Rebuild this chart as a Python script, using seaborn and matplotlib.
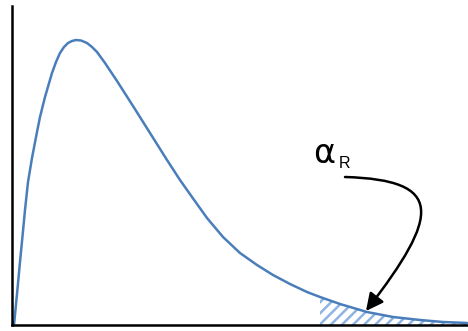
import matplotlib
matplotlib.use("Agg")
import pandas as pd
import matplotlib.pyplot as plt
import seaborn as sns
from matplotlib.path import Path
from matplotlib.patches import FancyArrowPatch

# ── Curve (arbitrary units, no ticks on the chart) ────────────────────────────
x_vals = [2, 5, 8, 11, 13, 16, 20, 25, 28, 33, 40, 44, 48, 52, 56, 60,
          64, 69, 75, 80, 85, 93, 105, 121, 138, 155, 168, 180, 195, 211,
          228, 245, 261, 278, 295, 308, 328, 355, 381, 408, 431, 455]
y_vals = [0, 31, 63, 94, 115, 143, 167, 193, 208, 228, 252, 263, 272, 278,
          282, 284, 285, 284.5, 282, 278, 273, 262, 244, 219, 192, 165, 145,
          128, 107, 88, 72, 60, 50, 41, 33, 28, 21, 13, 8, 5, 3, 2]

TAIL_START = 308          # right-tail region begins here
LABEL      = "α"
SUBSCRIPT  = "R"

CURVE_COLOR = "#4A7EBB"
HATCH_COLOR = "#8FB4E3"

df = pd.DataFrame({"x": x_vals, "y": y_vals})
tail = df[df["x"] >= TAIL_START]

sns.set_style("white")
plt.rcParams["font.family"] = ["Liberation Sans", "DejaVu Sans"]
plt.rcParams["hatch.linewidth"] = 1.8
plt.rcParams["hatch.color"] = HATCH_COLOR

fig = plt.figure(figsize=(4.68, 3.31), dpi=100)
ax = fig.add_axes([12 / 468, 6 / 331, 456 / 468, 319 / 331])

ax.fill_between(tail["x"], 0, tail["y"], facecolor="none",
                edgecolor=HATCH_COLOR, hatch="///", linewidth=0)
sns.lineplot(data=df, x="x", y="y", ax=ax, sort=False,
             color=CURVE_COLOR, linewidth=1.8)

ax.set_xlim(0, 456)
ax.set_ylim(0, 319)
ax.set_xticks([]); ax.set_yticks([])
ax.set_xlabel(""); ax.set_ylabel("")
sns.despine(ax=ax)
for side in ("left", "bottom"):
    ax.spines[side].set_color("black")
    ax.spines[side].set_linewidth(1.8)

# label
ax.text(301, 162, LABEL, fontsize=24, color="black", family="DejaVu Sans",
        ha="left", va="baseline")
ax.text(327, 157, SUBSCRIPT, fontsize=11.5, color="black", ha="left", va="baseline")

# curved arrow pointing at the tail
verts = [(333, 148), (433, 145), (428, 110), (354, 14)]
codes = [Path.MOVETO, Path.CURVE4, Path.CURVE4, Path.CURVE4]
arrow = FancyArrowPatch(path=Path(verts, codes),
                        arrowstyle="-|>,head_length=0.8,head_width=0.4",
                        mutation_scale=13, color="black", linewidth=1.8)
ax.add_patch(arrow)

fig.savefig("out.png", dpi=100)
